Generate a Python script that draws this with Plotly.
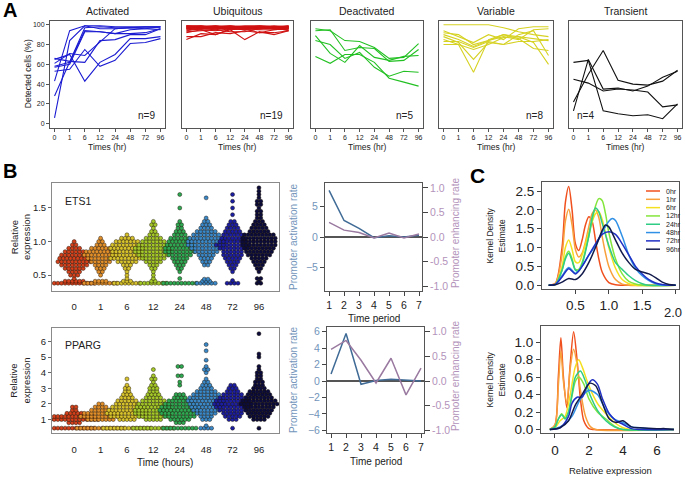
import plotly.graph_objects as go

W, H = 685, 480
FONT = "Liberation Sans, Arial, sans-serif"

# ---------------- Panel A data ----------------
time_labels = ["0", "1", "6", "12", "24", "48", "72", "96"]
pattern_names = ["Activated", "Ubiquitous", "Deactivated", "Variable", "Transient"]
pattern_colors = ["#1c1cd2", "#d01212", "#22c022", "#d6d224", "#111111"]
pattern_n = ["n=9", "n=19", "n=5", "n=8", "n=4"]

activated = [
    [6, 84, 99, 99, 98, 98, 98, 98],
    [28, 63, 97, 98, 97, 97, 97, 97],
    [43, 94, 99, 96, 96, 97, 96, 95],
    [58, 62, 94, 93, 91, 95, 96, 98],
    [61, 71, 69, 83, 96, 97, 98, 98],
    [66, 63, 62, 84, 85, 90, 90, 96],
    [65, 70, 43, 62, 70, 86, 86, 88],
    [53, 55, 75, 58, 64, 81, 82, 86],
    [57, 60, 93, 93, 91, 91, 92, 96],
]
ubiquitous = [
    [98, 98, 98, 98, 98, 98, 98, 98],
    [97, 97, 98, 97, 97, 98, 97, 97],
    [99, 98, 99, 98, 99, 99, 98, 99],
    [96, 97, 97, 96, 97, 96, 97, 98],
    [98, 99, 97, 98, 98, 97, 98, 97],
    [97, 96, 96, 97, 96, 97, 96, 96],
    [99, 99, 98, 99, 98, 98, 99, 98],
    [95, 96, 97, 95, 96, 96, 97, 97],
    [98, 97, 96, 98, 97, 98, 98, 98],
    [96, 98, 98, 96, 95, 97, 96, 97],
    [97, 98, 97, 97, 98, 96, 97, 96],
    [99, 97, 98, 99, 97, 99, 98, 98],
    [94, 96, 95, 97, 96, 95, 95, 96],
    [96, 95, 94, 96, 95, 97, 96, 95],
    [98, 98, 99, 97, 98, 98, 97, 99],
    [92, 95, 90, 96, 96, 92, 95, 96],
    [88, 88, 92, 91, 94, 92, 92, 94],
    [85, 91, 90, 95, 85, 93, 90, 94],
    [93, 94, 95, 93, 93, 96, 97, 94],
]
deactivated = [
    [96, 94, 84, 83, 77, 66, 67, 81],
    [94, 95, 74, 77, 76, 63, 64, 75],
    [89, 71, 62, 79, 67, 64, 68, 69],
    [84, 80, 66, 72, 57, 48, 53, 52],
    [68, 61, 70, 70, 62, 46, 42, 38],
]
variable = [
    [100, 100, 100, 100, 97, 93, 90, 88],
    [94, 88, 82, 90, 85, 96, 98, 98],
    [92, 90, 80, 84, 90, 88, 86, 84],
    [90, 85, 78, 84, 88, 85, 95, 96],
    [88, 82, 65, 82, 80, 90, 94, 69],
    [85, 80, 52, 85, 90, 86, 76, 74],
    [83, 83, 77, 83, 80, 83, 83, 85],
    [80, 80, 75, 80, 87, 88, 82, 60],
]
transient = [
    [62, 64, 13, 10, 8, 9, 5, 20],
    [45, 41, 33, 35, 34, 32, 17, 19],
    [22, 50, 74, 44, 40, 39, 43, 54],
    [13, 65, 35, 36, 33, 38, 47, 53],
]
pattern_data = [activated, ubiquitous, deactivated, variable, transient]

# ---------------- Panel B data ----------------
swarm_labels = ["0", "1", "6", "12", "24", "48", "72", "96"]
swarm_colors = ["#d2401c", "#e08e2a", "#d6c22c", "#a4c82a", "#2ea852",
                "#3a88c8", "#1c1ea2", "#0c0c3c"]
# (value, number of cells) per row of each time point
ets1_swarm = [
    [(0.38, 12), (0.41, 6), (0.45, 1), (0.5, 3), (0.55, 4), (0.6, 6), (0.65, 8), (0.7, 10),
     (0.75, 9), (0.8, 8), (0.85, 6), (0.9, 4), (0.95, 2), (1.0, 1)],
    [(0.38, 10), (0.41, 4), (0.5, 1), (0.55, 2), (0.6, 3), (0.65, 4), (0.7, 6), (0.75, 8),
     (0.8, 10), (0.85, 9), (0.9, 6), (0.95, 3), (1.0, 2), (1.05, 1)],
    [(0.38, 8), (0.41, 3), (0.45, 1), (0.5, 1), (0.55, 1), (0.6, 2), (0.65, 3), (0.7, 6),
     (0.75, 10), (0.8, 9), (0.85, 9), (0.9, 10), (0.95, 9), (1.0, 7), (1.05, 4), (1.1, 1)],
    [(0.38, 8), (0.41, 2), (0.45, 1), (0.5, 1), (0.55, 1), (0.6, 2), (0.65, 3), (0.7, 5),
     (0.75, 7), (0.8, 9), (0.85, 11), (0.9, 11), (0.95, 9), (1.0, 7), (1.05, 5), (1.1, 3),
     (1.15, 2), (1.2, 1), (1.25, 2), (1.3, 1)],
    [(0.38, 10), (0.45, 1), (0.55, 1), (0.6, 2), (0.65, 3), (0.7, 4), (0.75, 5), (0.8, 7),
     (0.85, 9), (0.9, 9), (0.95, 8), (1.0, 7), (1.05, 6), (1.1, 4), (1.15, 3), (1.2, 2),
     (1.25, 2), (1.3, 1), (1.5, 1), (1.7, 1)],
    [(0.38, 6), (0.41, 3), (0.44, 2), (0.65, 2), (0.7, 3), (0.75, 4), (0.8, 5), (0.85, 7),
     (0.9, 9), (0.95, 11), (1.0, 11), (1.05, 10), (1.1, 8), (1.15, 6), (1.2, 4), (1.25, 3),
     (1.3, 2), (1.35, 1), (1.65, 1)],
    [(0.38, 4), (0.42, 1), (0.55, 1), (0.6, 2), (0.65, 3), (0.7, 4), (0.75, 5), (0.8, 6),
     (0.85, 6), (0.9, 8), (0.95, 10), (1.0, 8), (1.05, 7), (1.1, 6), (1.15, 5), (1.2, 4),
     (1.25, 3), (1.3, 2), (1.4, 1), (1.5, 1), (1.6, 1), (1.7, 1)],
    [(0.38, 2), (0.4, 1), (0.45, 2), (0.55, 1), (0.6, 2), (0.65, 3), (0.7, 4), (0.75, 5),
     (0.8, 7), (0.85, 8), (0.9, 9), (0.95, 10), (1.0, 10), (1.05, 10), (1.1, 9), (1.15, 6),
     (1.2, 5), (1.25, 4), (1.3, 3), (1.35, 2), (1.4, 2), (1.45, 2), (1.5, 1), (1.55, 2),
     (1.6, 2), (1.65, 1), (1.7, 1), (1.75, 1), (1.8, 1)],
]
pparg_swarm = [
    [(0.45, 12), (0.8, 4), (1.0, 14), (1.2, 12), (1.4, 5), (1.6, 2), (1.8, 2)],
    [(0.45, 14), (1.0, 8), (1.2, 12), (1.4, 10), (1.6, 6), (1.8, 4), (2.0, 2)],
    [(0.45, 14), (1.0, 5), (1.2, 10), (1.4, 12), (1.6, 11), (1.8, 9), (2.0, 7), (2.2, 6),
     (2.4, 4), (2.6, 3), (2.8, 2), (3.0, 2), (3.2, 1), (3.6, 1)],
    [(0.45, 12), (1.0, 5), (1.2, 9), (1.4, 11), (1.6, 11), (1.8, 10), (2.0, 9), (2.2, 7),
     (2.4, 5), (2.6, 4), (2.8, 3), (3.0, 3), (3.2, 2), (3.4, 1), (3.6, 2), (3.8, 1), (4.2, 1)],
    [(0.45, 10), (0.8, 3), (1.0, 6), (1.2, 9), (1.4, 11), (1.6, 12), (1.8, 11), (2.0, 9),
     (2.2, 7), (2.4, 4), (2.6, 3), (3.2, 1), (3.4, 1), (3.8, 2), (4.4, 2)],
    [(0.45, 4), (0.6, 1), (1.0, 3), (1.2, 4), (1.4, 6), (1.6, 8), (1.8, 9), (2.0, 10),
     (2.2, 11), (2.4, 10), (2.6, 8), (2.8, 6), (3.0, 4), (3.2, 3), (3.4, 2), (3.6, 1),
     (4.0, 1), (4.2, 2), (4.4, 1), (4.8, 1), (5.4, 1), (5.8, 1)],
    [(0.45, 1), (1.0, 3), (1.2, 5), (1.4, 6), (1.6, 8), (1.8, 10), (2.0, 11), (2.2, 10),
     (2.4, 8), (2.6, 6), (2.8, 4), (3.0, 3), (3.2, 2)],
    [(0.45, 1), (1.0, 4), (1.2, 6), (1.4, 7), (1.6, 8), (1.8, 9), (2.0, 11), (2.2, 10),
     (2.4, 8), (2.6, 7), (2.8, 6), (3.0, 4), (3.2, 3), (3.4, 3), (3.6, 2), (3.8, 2),
     (4.0, 2), (4.2, 1), (4.4, 1), (5.0, 1), (5.2, 1), (6.5, 1)],
]

time_period = [1, 2, 3, 4, 5, 6, 7]
ets1_activation = [7.6, 2.7, 1.4, -0.1, 0.2, 0.0, 0.3]
ets1_enhancing = [0.30, 0.14, 0.09, -0.02, 0.08, -0.02, 0.06]
pparg_activation = [0.85, 5.75, -0.4, 0.05, 0.2, 0.1, 0.0]
pparg_enhancing = [0.64, 0.82, 0.42, -0.04, 0.46, -0.28, 0.26]

# ---------------- Panel C data ----------------
kde_labels = ["0hr", "1hr", "6hr", "12hr", "24hr", "48hr", "72hr", "96hr"]
kde_colors = ["#f0501e", "#f8a03c", "#f4e020", "#84e63c", "#2ecc84", "#3090e6", "#2030c4", "#121a4c"]
ets1_kde_x = [
    [0.1, 0.2, 0.3, 0.35, 0.4, 0.45, 0.5, 0.55, 0.6, 0.65, 0.7, 0.75, 0.8, 0.85, 0.9, 1.0, 1.1, 1.2, 2.0],
    [0.1, 0.2, 0.3, 0.35, 0.4, 0.45, 0.5, 0.55, 0.6, 0.65, 0.7, 0.75, 0.8, 0.85, 0.9, 0.95, 1.0, 1.1, 1.2, 1.3, 2.0],
    [0.1, 0.2, 0.3, 0.35, 0.4, 0.45, 0.5, 0.55, 0.6, 0.7, 0.8, 0.85, 0.9, 1.0, 1.1, 1.2, 1.3, 1.4, 2.0],
    [0.1, 0.2, 0.3, 0.35, 0.4, 0.45, 0.5, 0.55, 0.6, 0.7, 0.8, 0.85, 0.9, 0.95, 1.0, 1.1, 1.2, 1.3, 1.4, 1.5, 2.0],
    [0.1, 0.2, 0.3, 0.35, 0.4, 0.45, 0.5, 0.55, 0.6, 0.7, 0.75, 0.8, 0.85, 0.9, 1.0, 1.1, 1.2, 1.3, 1.4, 1.5, 1.6, 2.0],
    [0.1, 0.2, 0.3, 0.4, 0.5, 0.6, 0.7, 0.8, 0.9, 1.0, 1.05, 1.1, 1.2, 1.3, 1.4, 1.5, 1.6, 1.7, 1.8, 2.0],
    [0.1, 0.2, 0.3, 0.4, 0.5, 0.6, 0.7, 0.8, 0.9, 1.0, 1.1, 1.2, 1.3, 1.4, 1.5, 1.6, 1.7, 1.8, 1.9, 2.0],
    [0.1, 0.2, 0.3, 0.4, 0.5, 0.6, 0.7, 0.8, 0.9, 0.95, 1.0, 1.1, 1.2, 1.3, 1.4, 1.5, 1.6, 1.7, 1.8, 1.9, 2.0],
]
ets1_kde_y = [
    [0, 0.05, 1.0, 2.2, 2.62, 2.0, 1.1, 0.92, 1.2, 1.6, 1.82, 1.7, 1.2, 0.7, 0.35, 0.07, 0.01, 0, 0],
    [0, 0.04, 0.8, 1.7, 2.02, 1.6, 0.95, 0.75, 0.85, 1.15, 1.55, 1.9, 2.0, 1.8, 1.3, 0.85, 0.5, 0.15, 0.03, 0, 0],
    [0, 0.02, 0.5, 1.0, 1.2, 0.95, 0.62, 0.6, 0.8, 1.4, 1.9, 1.95, 1.75, 1.0, 0.45, 0.15, 0.04, 0, 0],
    [0, 0.02, 0.4, 0.75, 0.9, 0.7, 0.42, 0.42, 0.6, 1.3, 2.1, 2.3, 2.25, 1.9, 1.4, 0.7, 0.3, 0.1, 0.03, 0, 0],
    [0, 0.02, 0.4, 0.7, 0.85, 0.65, 0.4, 0.38, 0.55, 1.3, 1.8, 2.05, 1.95, 1.65, 1.05, 0.6, 0.42, 0.25, 0.12, 0.04, 0, 0],
    [0, 0.02, 0.25, 0.47, 0.32, 0.5, 0.8, 1.05, 1.4, 1.7, 1.77, 1.72, 1.3, 0.8, 0.45, 0.25, 0.12, 0.04, 0, 0],
    [0, 0.02, 0.22, 0.44, 0.3, 0.5, 0.8, 1.1, 1.35, 1.42, 1.35, 1.1, 0.8, 0.5, 0.3, 0.15, 0.06, 0.02, 0, 0],
    [0, 0.01, 0.08, 0.18, 0.15, 0.3, 0.6, 1.0, 1.45, 1.6, 1.55, 1.2, 0.85, 0.6, 0.42, 0.35, 0.3, 0.2, 0.08, 0.02, 0],
]
pparg_kde_x = [
    [-0.3, 0, 0.2, 0.35, 0.5, 0.7, 0.9, 1.1, 1.3, 1.5, 1.7, 2.0, 2.3, 7.0],
    [-0.3, 0, 0.2, 0.35, 0.5, 0.7, 0.9, 1.1, 1.3, 1.5, 1.8, 2.1, 2.4, 7.0],
    [-0.3, 0, 0.3, 0.6, 0.9, 1.2, 1.4, 1.6, 2.0, 2.5, 3.0, 3.5, 4.0, 4.5, 7.0],
    [-0.3, 0, 0.2, 0.4, 0.6, 0.8, 1.0, 1.2, 1.4, 1.7, 2.0, 2.5, 3.0, 3.5, 4.0, 7.0],
    [-0.3, 0, 0.2, 0.4, 0.6, 0.8, 1.0, 1.2, 1.5, 1.8, 2.1, 2.5, 3.0, 3.5, 4.0, 7.0],
    [-0.3, 0, 0.5, 1.0, 1.5, 2.0, 2.5, 3.0, 3.5, 4.0, 4.5, 5.0, 5.5, 6.0, 7.0],
    [-0.3, 0.3, 0.8, 1.0, 1.3, 1.6, 1.9, 2.2, 2.5, 2.8, 3.2, 3.6, 4.0, 4.5, 5.0, 7.0],
    [-0.3, 0.3, 0.8, 1.2, 1.6, 2.05, 2.4, 2.8, 3.2, 3.6, 4.0, 4.5, 5.0, 6.0, 6.5, 7.0],
]
pparg_kde_y = [
    [0, 0.05, 0.6, 1.05, 0.6, 0.25, 0.75, 1.12, 0.8, 0.35, 0.1, 0.01, 0, 0],
    [0, 0.05, 0.5, 0.9, 0.55, 0.3, 0.7, 0.92, 0.75, 0.45, 0.15, 0.03, 0, 0],
    [0, 0.02, 0.1, 0.15, 0.4, 0.72, 0.8, 0.72, 0.5, 0.3, 0.18, 0.08, 0.02, 0, 0],
    [0, 0.03, 0.12, 0.18, 0.13, 0.2, 0.38, 0.55, 0.6, 0.52, 0.35, 0.2, 0.12, 0.04, 0, 0],
    [0, 0.03, 0.12, 0.17, 0.12, 0.2, 0.4, 0.6, 0.67, 0.55, 0.38, 0.22, 0.1, 0.03, 0, 0],
    [0, 0.01, 0.05, 0.15, 0.35, 0.45, 0.4, 0.22, 0.12, 0.08, 0.03, 0.02, 0.01, 0, 0],
    [0, 0.02, 0.15, 0.3, 0.37, 0.37, 0.5, 0.57, 0.52, 0.35, 0.18, 0.1, 0.06, 0.01, 0, 0],
    [0, 0.02, 0.1, 0.28, 0.4, 0.53, 0.5, 0.3, 0.12, 0.08, 0.1, 0.03, 0.02, 0.01, 0.01, 0],
]

# ---------------- helpers ----------------
def dx(x0, x1):
    return [x0 / W, x1 / W]

def dy(y0, y1):
    return [1 - y1 / H, 1 - y0 / H]

def px(x):
    return x / W

def py(y):
    return 1 - y / H

fig = go.Figure()
layout = {}
annotations = []
shapes = []

def ann(text, x, y, size, color="#222", angle=0, xanchor="center", yanchor="middle", family=FONT):
    annotations.append(dict(text=text, x=px(x), y=py(y), xref="paper", yref="paper",
                            showarrow=False, font=dict(size=size, color=color, family=family),
                            textangle=angle, xanchor=xanchor, yanchor=yanchor))

BOX = "#555555"

def box_axis(domain, rng, **kw):
    d = dict(domain=domain, range=rng, showline=True, mirror=True, linecolor=BOX,
             linewidth=1, showgrid=False, zeroline=False, fixedrange=True)
    d.update(kw)
    return d

# ---------------- Panel A ----------------
a_boxes = [(50, 165), (182, 293), (311, 423), (439, 553), (569, 682)]
for i, (name, color, data, (x0, x1)) in enumerate(zip(pattern_names, pattern_colors, pattern_data, a_boxes)):
    k = i + 1
    xa = "x" if k == 1 else f"x{k}"
    ya = "y" if k == 1 else f"y{k}"
    for row in data:
        fig.add_trace(go.Scatter(x=list(range(len(time_labels))), y=row, mode="lines",
                                 line=dict(color=color, width=1.1), xaxis=xa, yaxis=ya,
                                 showlegend=False, hoverinfo="skip"))
    layout["xaxis" if k == 1 else f"xaxis{k}"] = box_axis(
        dx(x0, x1), [-0.3, 7.3], anchor=ya, tickmode="array",
        tickvals=list(range(len(time_labels))), ticktext=time_labels, ticks="outside",
        ticklen=3, tickcolor=BOX, tickfont=dict(size=7, family=FONT, color="#222"))
    yax = box_axis(dy(20, 128), [-4, 104], anchor=xa)
    if k == 1:
        yax.update(tickmode="array", tickvals=[0, 20, 40, 60, 80, 100], ticks="outside",
                   ticklen=3, tickcolor=BOX, tickfont=dict(size=7, family=FONT, color="#222"))
    else:
        yax.update(showticklabels=False, ticks="")
    layout["yaxis" if k == 1 else f"yaxis{k}"] = yax
    ann(name, (x0 + x1) / 2, 10, 10.5)
    ann("Times (hr)", (x0 + x1) / 2, 148, 8.5)
    if k == 5:
        ann(pattern_n[i], x0 + 6, 116, 10, xanchor="left")
    else:
        ann(pattern_n[i], x1 - 8, 116, 10, xanchor="right")
ann("Detected cells (%)", 28, 74, 8.5, angle=-90)
ann("<b>A</b>", 1, 9, 20, color="#000", xanchor="left")

# ---------------- Panel B beeswarms ----------------
def swarm_xy(rows, gi, pitch):
    xs, ys = [], []
    for v, n in rows:
        for j in range(n):
            xs.append(gi + (j - (n - 1) / 2) * pitch)
            ys.append(v)
    return xs, ys

PITCH = 0.137
for (swarm, xa, ya, xkey, ykey, ybox, yrng, yticks, label) in [
    (ets1_swarm, "x6", "y6", "xaxis6", "yaxis6", (184, 293), [0.265, 1.87], [0.5, 1.0, 1.5], "ETS1"),
    (pparg_swarm, "x7", "y7", "xaxis7", "yaxis7", (330, 437), [0.11, 6.89], [1, 2, 3, 4, 5, 6], "PPARG"),
]:
    for gi, rows in enumerate(swarm):
        xs, ys = swarm_xy(rows, gi, PITCH)
        fig.add_trace(go.Scatter(x=xs, y=ys, mode="markers", xaxis=xa, yaxis=ya,
                                 marker=dict(size=4, color=swarm_colors[gi],
                                             line=dict(width=0.6, color="rgba(25,15,5,0.75)")),
                                 showlegend=False, hoverinfo="skip", cliponaxis=True))
    layout[xkey] = box_axis(dx(52, 279), [-0.84, 7.76], anchor=ya, linecolor="#8a8a8a",
                            tickmode="array", tickvals=list(range(8)), ticktext=swarm_labels,
                            ticks="outside", ticklen=7, tickcolor="rgba(0,0,0,0)",
                            tickfont=dict(size=9.5, family=FONT, color="#222"))
    layout[ykey] = box_axis(dy(*ybox), yrng, anchor=xa, linecolor="#8a8a8a", tickmode="array",
                            tickvals=yticks, ticktext=[("%.1f" % t) if label == "ETS1" else str(t) for t in yticks],
                            ticks="outside", ticklen=3, tickcolor="#666",
                            tickfont=dict(size=9.5, family=FONT, color="#222"))
    ann(label, 63, ybox[0] + 18, 10.5, xanchor="left")
    ann("Relative<br>expression", 20, (ybox[0] + ybox[1]) / 2, 9.5, angle=-90)
ann("Time (hours)", 165, 466, 10)
ann("<b>B</b>", 1, 172, 20, color="#000", xanchor="left")

# ---------------- Panel B rate lines ----------------
ACT_C = "#3f6b96"
ENH_C = "#9a7aa0"
ACT_T = "#7395bb"
ENH_T = "#b393bb"
for (act, enh, xa, ya, yr, xkey, ykey, yrkey, xbox, ybox, lrng, rrng, lticks) in [
    (ets1_activation, ets1_enhancing, "x8", "y8", "y9", "xaxis8", "yaxis8", "yaxis9",
     (325, 422), (184, 293), [-8.8, 8.8], [-1.1, 1.1], [-5, 0, 5]),
    (pparg_activation, pparg_enhancing, "x10", "y10", "y11", "xaxis10", "yaxis10", "yaxis11",
     (327, 424), (329, 437), [-6.36, 6.6], [-1.06, 1.1], [-6, -4, -2, 0, 2, 4, 6]),
]:
    fig.add_trace(go.Scatter(x=time_period, y=act, mode="lines", line=dict(color=ACT_C, width=1.5),
                             xaxis=xa, yaxis=ya, showlegend=False, hoverinfo="skip"))
    fig.add_trace(go.Scatter(x=time_period, y=enh, mode="lines", line=dict(color=ENH_C, width=1.5),
                             xaxis=xa, yaxis=yr, showlegend=False, hoverinfo="skip"))
    layout[xkey] = box_axis(dx(*xbox), [0.73, 7.2], anchor=ya, tickmode="array",
                            tickvals=time_period, ticks="outside", ticklen=4, tickcolor="#444",
                            tickfont=dict(size=10.5, family=FONT, color="#222"))
    layout[ykey] = box_axis(dy(*ybox), lrng, anchor=xa, tickmode="array", tickvals=lticks,
                            ticks="outside", ticklen=4, tickcolor="#444", zeroline=True,
                            zerolinecolor="#555", zerolinewidth=1.5,
                            tickfont=dict(size=10.5, family=FONT, color=ACT_T))
    layout[yrkey] = dict(domain=dy(*ybox), range=rrng, overlaying=ya, anchor=xa, side="right",
                         showgrid=False, zeroline=False, showline=False, tickmode="array",
                         tickvals=[-1.0, -0.5, 0.0, 0.5, 1.0], ticktext=["-1.0", "-0.5", "0.0", "0.5", "1.0"],
                         ticks="outside", ticklen=5, tickcolor="#444", fixedrange=True,
                         tickfont=dict(size=10.5, family=FONT, color=ENH_T))
    ann("Promoter activation rate", 293, (ybox[0] + ybox[1]) / 2, 10, color=ACT_T, angle=-90)
    ann("Promoter enhancing rate", 455, (ybox[0] + ybox[1]) / 2 - 4, 10, color=ENH_T, angle=-90)
    ann("Time period", (xbox[0] + xbox[1]) / 2, ybox[1] + 28, 10)

# ---------------- Panel C ----------------
for (kx, ky, xa, ya, xkey, ykey, xbox, ybox, xr, yr, xt, xtt, yt, ytt) in [
    (ets1_kde_x, ets1_kde_y, "x12", "y12", "xaxis12", "yaxis12", (542, 679), (183, 291),
     [0.0, 2.05], [-0.1, 2.74], [0.5, 1.0, 1.5, 2.0], ["0.5", "1.0", "1.5", ""],
     [0, 0.5, 1.0, 1.5, 2.0, 2.5], ["0.0", "0.5", "1.0", "1.5", "2.0", "2.5"]),
    (pparg_kde_x, pparg_kde_y, "x13", "y13", "xaxis13", "yaxis13", (541, 679), (328, 437),
     [-0.82, 7.3], [-0.045, 1.19], [0, 2, 4, 6], ["0", "2", "4", "6"],
     [0, 0.2, 0.4, 0.6, 0.8, 1.0], ["0.0", "0.2", "0.4", "0.6", "0.8", "1.0"]),
]:
    for gi in range(len(kde_labels)):
        fig.add_trace(go.Scatter(x=kx[gi], y=ky[gi], mode="lines",
                                 line=dict(color=kde_colors[gi], width=1.5, shape="spline", smoothing=0.8),
                                 xaxis=xa, yaxis=ya, showlegend=False, hoverinfo="skip"))
    layout[xkey] = box_axis(dx(*xbox), xr, anchor=ya, tickmode="array", tickvals=xt, ticktext=xtt,
                            ticks="outside", ticklen=4, tickcolor="#444",
                            tickfont=dict(size=13.5, family=FONT, color="#222"))
    layout[ykey] = box_axis(dy(*ybox), yr, anchor=xa, tickmode="array", tickvals=yt, ticktext=ytt,
                            ticks="outside", ticklen=4, tickcolor="#444",
                            tickfont=dict(size=13.5, family=FONT, color="#222"))
    ann("Kernel Density<br>Estimate", 496, (ybox[0] + ybox[1]) / 2, 8.5, angle=-90)
# last tick label of the upper density panel sits on the page edge
ann("2.0", 684, 305, 13, xanchor="right", yanchor="top")
ann("Relative expression", 610, 474, 9.5)
ann("<b>C</b>", 468, 176, 21, color="#000", xanchor="left")

# manual legend for panel C (top)
for gi, (lab, col) in enumerate(zip(kde_labels, kde_colors)):
    yy = 192 + gi * 8.4
    shapes.append(dict(type="line", xref="paper", yref="paper", x0=px(646), x1=px(660),
                       y0=py(yy), y1=py(yy), line=dict(color=col, width=1.5)))
    ann(lab, 664, yy, 7, xanchor="left")

layout.update(dict(width=W, height=H, margin=dict(l=0, r=0, t=0, b=0),
                   paper_bgcolor="white", plot_bgcolor="white", showlegend=False,
                   annotations=annotations, shapes=shapes,
                   font=dict(family=FONT, color="#222")))
fig.update_layout(**layout)
fig.write_html("out.html", config={"displayModeBar": False},
               post_script="document.body.style.margin='0';document.body.style.overflow='hidden';")
